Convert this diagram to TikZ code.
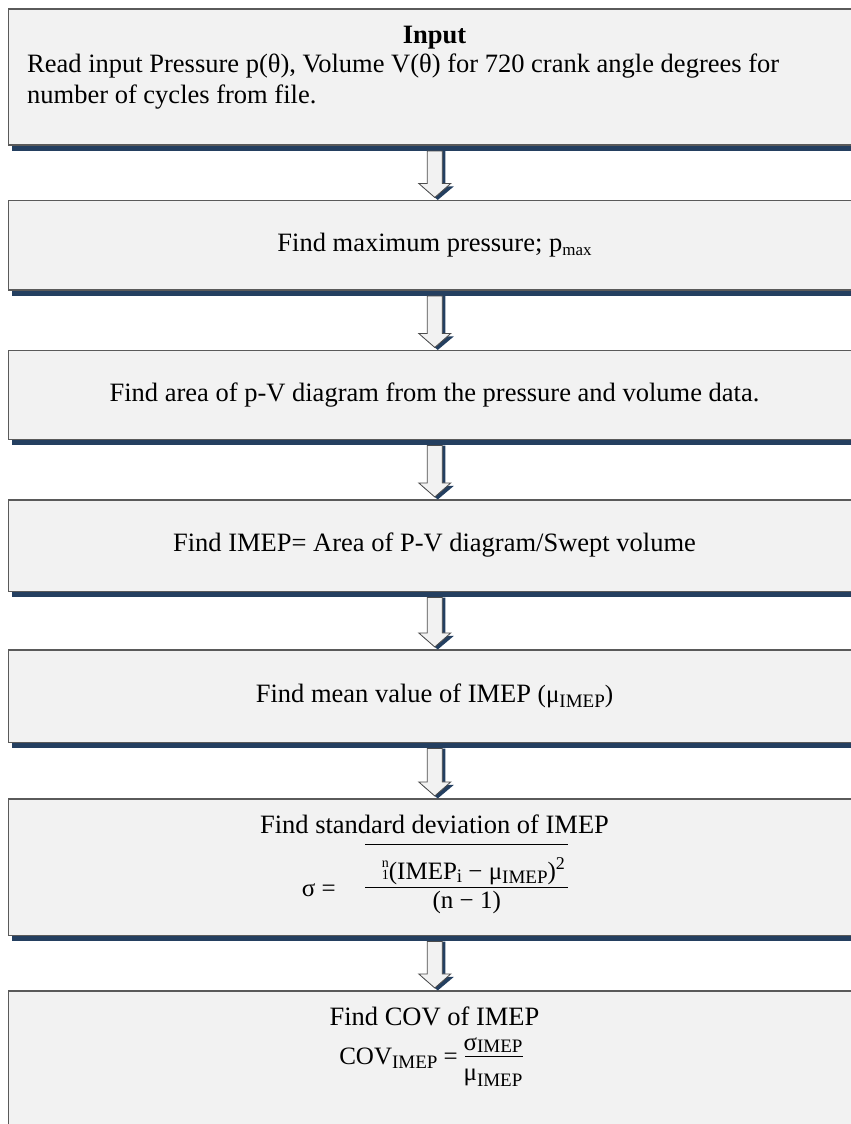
\documentclass[tikz,border=0pt]{standalone}
\usepackage{fontspec}
\setmainfont{Liberation Serif}
\newfontfamily\mfont{Liberation Serif}
\usetikzlibrary{shadows,calc}
\definecolor{boxfill}{HTML}{F2F2F2}
\definecolor{shadowc}{HTML}{243F60}
\definecolor{edgec}{HTML}{5A5A5A}
\newcommand\msub[2][4pt]{\raisebox{-#1}{\fontsize{19}{19}\selectfont #2}}
\newcommand\msup[1]{\raisebox{10pt}{\fontsize{18}{18}\selectfont #1}}
\newcommand\flowarrow[2]{%
  \fill[arrowshade] let \p1=(#1.south), \p2=(#2.north) in
    (\x1-4.5pt,\y1-5.5pt) -- (\x1-4.5pt,\y2+13.5pt) -- (\x1-13pt,\y2+13.5pt) --
    (\x1+3pt,\y2) -- (\x1+19pt,\y2+13.5pt) -- (\x1+10.5pt,\y2+13.5pt) --
    (\x1+10.5pt,\y1-5.5pt) -- cycle;
  \filldraw[arrowbody] let \p1=(#1.south), \p2=(#2.north) in
    (\x1-7.5pt,\y1-5.5pt) -- (\x1-7.5pt,\y2+16.5pt) -- (\x1-16pt,\y2+16.5pt) --
    (\x1,\y2+2.5pt) -- (\x1+16pt,\y2+16.5pt) -- (\x1+7.5pt,\y2+16.5pt) --
    (\x1+7.5pt,\y1-5.5pt) -- cycle;}
\tikzset{
  flowbox/.style={draw=edgec, line width=1.1pt, fill=boxfill, minimum width=852.5pt,
    inner sep=0pt, general shadow={fill=shadowc, shadow xshift=3.5pt, shadow yshift=-5.5pt}},
  arrowshade/.style={fill=shadowc},
  arrowbody/.style={fill=boxfill, draw=black!70, line width=0.8pt, line join=miter},
  txt/.style={inner sep=0pt, font=\fontsize{26.5}{31}\selectfont},
  mtxt/.style={inner sep=0pt, font=\mfont\fontsize{25}{29}\selectfont},
  rule/.style={line width=1.3pt, black}
}
\begin{document}
\begin{tikzpicture}[x=1pt,y=-1pt]
\useasboundingbox (0,0) rectangle (851,1124);
\fill[white] (0,0) rectangle (851,1124);
\clip (0,0) rectangle (851,1124);
% boxes
\node[flowbox, minimum height=136pt]   (b1) at (434.75,77) {};
\node[flowbox, minimum height=89.5pt]  (b2) at (434.75,245.25) {};
\node[flowbox, minimum height=89pt]    (b3) at (434.75,395) {};
\node[flowbox, minimum height=91.5pt]  (b4) at (434.75,545.75) {};
\node[flowbox, minimum height=92.5pt]  (b5) at (434.75,696.25) {};
\node[flowbox, minimum height=136.5pt] (b6) at (434.75,867.25) {};
\node[flowbox, minimum height=149pt]   (b7) at (434.75,1065.5) {};
% arrows
\flowarrow{b1}{b2}
\flowarrow{b2}{b3}
\flowarrow{b3}{b4}
\flowarrow{b4}{b5}
\flowarrow{b5}{b6}
\flowarrow{b6}{b7}
% box 1
\node[txt, anchor=base] (t1a) at (434.5,44) {\bfseries Input};
\node[txt, anchor=base west] (t1b) at (27,72.5) {Read input Pressure p(θ), Volume V(θ) for 720 crank angle degrees for};
\node[txt, anchor=base west] (t1c) at (27,103.5) {number of cycles from file.};
% box 2
\node[txt, anchor=base] (t2) at (434.5,251) {Find maximum pressure; p\raisebox{-4pt}{\fontsize{17}{17}\selectfont max}};
% box 3
\node[txt, anchor=base] (t3) at (434.5,401) {Find area of p-V diagram from the pressure and volume data.};
% box 4
\node[txt, anchor=base] (t4) at (434.5,551.5) {Find IMEP= Area of P-V diagram/Swept volume};
% box 5
\node[txt, anchor=base] (t5) at (434.5,702) {Find mean value of IMEP {\mfont\fontsize{25}{29}\selectfont(μ\msub[5pt]{IMEP})}};
% box 6
\node[txt, anchor=base] (t6) at (434.5,833) {Find standard deviation of IMEP};
\node[mtxt, anchor=base west] (sdeq) at (301.7,896.7) {σ =};
\node[mtxt, anchor=base] (sdnum) at (473.4,879) {\makebox[0pt][l]{\raisebox{11.5pt}{\fontsize{14}{14}\selectfont n}}{\fontsize{14}{14}\selectfont 1}(IMEP\msub[3pt]{i} − μ\msub[4pt]{IMEP})\msup{2}};
\node[mtxt, anchor=base] (sdden) at (466.7,908) {(n − 1)};
\draw[rule] (365,844.3) -- (568,844.3);
\draw[rule] (365,887.3) -- (568,887.3);
% box 7
\node[txt, anchor=base] (t7) at (434.5,1025) {Find COV of IMEP};
\node[mtxt, anchor=base east] (coveq) at (458,1064) {COV\msub{IMEP} =};
\node[mtxt, anchor=base] (covnum) at (493,1050) {σ\msub[2pt]{IMEP}};
\node[mtxt, anchor=base] (covden) at (493,1080.5) {μ\msub[6pt]{IMEP}};
\draw[rule] (465,1056.7) -- (522.7,1056.7);
\end{tikzpicture}
\end{document}
